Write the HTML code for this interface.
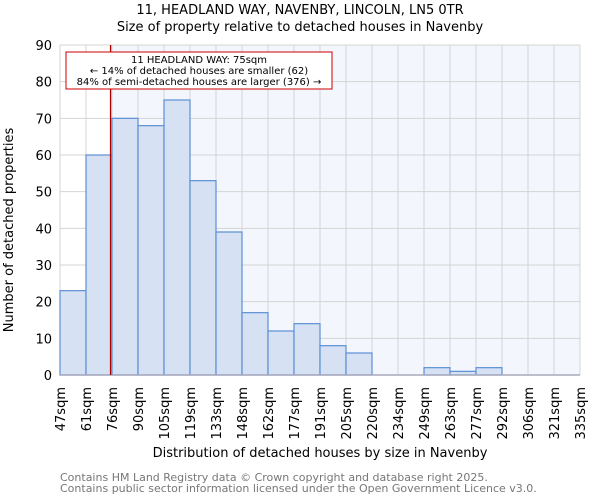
<!DOCTYPE html>
<html><head><meta charset="utf-8"><style>
body{margin:0;background:#fff;font-family:"DejaVu Sans","Liberation Sans",sans-serif}
</style></head><body>
<svg id="c" width="600" height="500" xmlns="http://www.w3.org/2000/svg" font-family="DejaVu Sans, Liberation Sans, sans-serif">
<text x="300" y="14" text-anchor="middle" font-size="13">11, HEADLAND WAY, NAVENBY, LINCOLN, LN5 0TR</text>
<text x="300" y="31" text-anchor="middle" font-size="13">Size of property relative to detached houses in Navenby</text>
<g id="plot"></g>
<text transform="translate(13,230) rotate(-90)" text-anchor="middle" font-size="13">Number of detached properties</text>
<text x="320" y="457" text-anchor="middle" font-size="13">Distribution of detached houses by size in Navenby</text>
<text x="60" y="481" font-size="11" fill="#777">Contains HM Land Registry data © Crown copyright and database right 2025.</text>
<text x="60" y="492" font-size="11" fill="#777">Contains public sector information licensed under the Open Government Licence v3.0.</text>
</svg>
<script>
const categories=["47sqm","61sqm","76sqm","90sqm","105sqm","119sqm","133sqm","148sqm","162sqm","177sqm","191sqm","205sqm","220sqm","234sqm","249sqm","263sqm","277sqm","292sqm","306sqm","321sqm","335sqm"];
const counts=[23,60,70,68,75,53,39,17,12,14,8,6,0,0,2,1,2,0,0,0];
const yTicks=[0,10,20,30,40,50,60,70,80,90];
const subjectSize=75;
const binStart=47, binWidth=14.4;
const L=60,R=580,T=45,B=375,yMax=90;
const n=counts.length, bw=(R-L)/n;
const xs=v=>L+(v-binStart)/binWidth*bw;
const ys=v=>B-(v/yMax)*(B-T);
const ns="http://www.w3.org/2000/svg";
const g=document.getElementById('plot');
function mk(t,a){const e=document.createElementNS(ns,t);for(const k in a)e.setAttribute(k,a[k]);g.appendChild(e);return e;}
const bg=mk('rect',{x:L,y:T,width:R-L,height:B-T,fill:'#f3f6fc'});


const rx=xs(subjectSize);
const lb=mk('rect',{x:L,y:T,width:rx-L,height:B-T,fill:'#ffffff'});


yTicks.forEach(v=>{
 const l=mk('line',{x1:L,x2:R,y1:ys(v),y2:ys(v),stroke:'#d4d4d4','stroke-width':1});
 
 
 const t=mk('text',{x:L-8,y:ys(v)+5,'text-anchor':'end','font-size':13});
 t.textContent=v;
 
 
});
categories.forEach((c,i)=>{
 const x=L+i*bw;
 const l=mk('line',{x1:x,x2:x,y1:T,y2:B,stroke:'#d4d4d4','stroke-width':1});
 
 
 const t=mk('text',{transform:`translate(${x+5},387) rotate(-90)`,'text-anchor':'end','font-size':13});
 t.textContent=c;
 
 
});
counts.forEach((v,i)=>{
 if(v<=0)return;
 const r=mk('rect',{x:L+i*bw,y:ys(v),width:bw,height:B-ys(v),fill:'#d6e1f3',stroke:'#5b8fd6','stroke-width':1.2});
 
 
});
const ax=mk('line',{x1:L,x2:R,y1:B,y2:B,stroke:'#aab',"stroke-width":1.5});


const ml=mk('line',{x1:rx,x2:rx,y1:T,y2:B,stroke:'#aa0000','stroke-width':1.3});


const box=mk('rect',{x:66,y:52,width:266,height:37,fill:'#fff',stroke:'#c00','stroke-width':1});


["11 HEADLAND WAY: 75sqm","← 14% of detached houses are smaller (62)","84% of semi-detached houses are larger (376) →"].forEach((s,i)=>{
 const t=mk('text',{x:199,y:63+i*11,'text-anchor':'middle','font-size':10});
 t.textContent=s;
 
 
});
</script>
</body></html>
